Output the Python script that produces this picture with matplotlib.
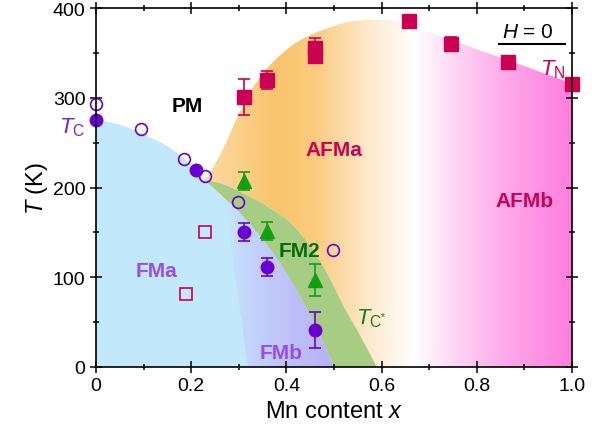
import numpy as np
import matplotlib
matplotlib.use('Agg')
import matplotlib.pyplot as plt
from matplotlib.patches import Polygon
from matplotlib.colors import LinearSegmentedColormap

plt.rcParams['font.family'] = ['Liberation Sans', 'DejaVu Sans']
plt.rcParams['mathtext.fontset'] = 'custom'
plt.rcParams['mathtext.rm'] = 'Liberation Sans'
plt.rcParams['mathtext.it'] = 'Liberation Sans:italic'
plt.rcParams['mathtext.bf'] = 'Liberation Sans:bold'

PURPLE = '#6a00d0'
CRIMSON = '#cc0052'
GREEN = '#12a012'

# --- measured points ---
# T_C, filled circles
tc_x = [0.0, 0.21, 0.31, 0.36, 0.46]
tc_y = [275, 220, 150, 111, 41]
tc_err = [0, 0, 10, 10, 20]
# T_C, open circles
tc_open_x = [0.0, 0.095, 0.185, 0.229, 0.298, 0.498]
tc_open_y = [293, 265, 232, 213, 184, 130]
# T_C*, triangles
tcs_x = [0.31, 0.36, 0.46]
tcs_y = [207, 152, 97]
tcs_err = [10, 10, 18]
# T_N, filled squares
tn_x = [0.31, 0.36, 0.46, 0.46, 0.657, 0.746, 0.866, 1.0]
tn_y = [301, 320, 355, 347, 385, 360, 340, 315]
tn_err = [20, 10, 12, 0, 0, 8, 0, 0]
# open squares
sq_open_x = [0.189, 0.229]
sq_open_y = [81, 150]

# --- phase boundaries ---
tc_line_x = [0.0, 0.05, 0.10, 0.15, 0.19, 0.21, 0.228]
tc_line_y = [275, 270, 259, 246, 230, 219, 208]
fm2_low_x = [0.228, 0.26, 0.30, 0.34, 0.38, 0.41, 0.44, 0.47, 0.50]
fm2_low_y = [208, 193, 173, 149, 121, 96, 68, 36, 0]
fm2_up_x = [0.59, 0.555, 0.52, 0.49, 0.455, 0.41, 0.36, 0.30, 0.26, 0.228]
fm2_up_y = [0, 35, 68, 100, 131, 160, 179, 196, 205, 208]
tn_line_x = [1.0, 0.87, 0.80, 0.70, 0.64, 0.597, 0.55, 0.506, 0.435,
             0.38, 0.338, 0.303, 0.267, 0.239, 0.228]
tn_line_y = [316, 341, 354, 373, 384, 387, 386, 381, 366,
             344, 318, 285, 243, 216, 208]
fmb_edge_x = [0.319, 0.27]
fmb_edge_y = [0, 188]


def smooth(xs, ys, n=16):
    # Catmull-Rom through the read-off boundary points
    p = np.column_stack([xs, ys]).astype(float)
    p = np.vstack([p[0], p, p[-1]])
    out = []
    t = np.linspace(0, 1, n, endpoint=False)[:, None]
    for i in range(1, len(p) - 2):
        p0, p1, p2, p3 = p[i - 1], p[i], p[i + 1], p[i + 2]
        out.append(0.5 * ((2 * p1) + (-p0 + p2) * t
                          + (2 * p0 - 5 * p1 + 4 * p2 - p3) * t ** 2
                          + (-p0 + 3 * p1 - 3 * p2 + p3) * t ** 3))
    out.append(p[-2][None, :])
    return np.vstack(out)


fig = plt.figure(figsize=(6.03, 4.35), dpi=100)
ax = fig.add_axes([96/603, 67/435, 476/603, 359/435])


def grad_fill(pts, stops, z):
    poly = Polygon(pts, closed=True, fc='none', ec='none')
    ax.add_patch(poly)
    cmap = LinearSegmentedColormap.from_list('g', stops, N=512)
    grad = np.linspace(0, 1, 800).reshape(1, -1)
    im = ax.imshow(grad, cmap=cmap, extent=(0, 1, 0, 400), aspect='auto',
                   origin='lower', zorder=z, interpolation='bilinear')
    im.set_clip_path(poly)


tc_curve = smooth(tc_line_x, tc_line_y)
low_curve = smooth(fm2_low_x, fm2_low_y)
up_curve = smooth(fm2_up_x, fm2_up_y)
tn_curve = smooth(tn_line_x, tn_line_y)

# FMa (blue)
blue = np.vstack([[0, 0], tc_curve, low_curve[1:]])
ax.add_patch(Polygon(blue, closed=True, fc='#c2e8fb', ec='none', zorder=0.4))

# FMb (lavender gradient)
low_part = low_curve[low_curve[:, 0] > 0.272]
fmb = np.vstack([np.column_stack([fmb_edge_x, fmb_edge_y]), low_part])
grad_fill(fmb, [(0, '#c2e8fb'), (0.27, '#c2e8fb'), (0.33, '#c3d2fa'),
                (0.42, '#bdbff8'), (0.5, '#b8b0f6'), (1, '#b8b0f6')], 0.5)

# FM2 (green)
ax.add_patch(Polygon(np.vstack([low_curve, up_curve]), closed=True,
                     fc='#a7cc83', ec='none', zorder=0.6))

# AFMa / AFMb (orange -> white -> pink)
afm = np.vstack([up_curve[::-1], [[1.0, 0]], tn_curve])
grad_fill(afm, [(0, '#fddba4'), (0.22, '#fddba4'), (0.30, '#fbd08a'),
                (0.38, '#f9c46c'), (0.46, '#fbcb7e'), (0.56, '#fde6c4'),
                (0.63, '#fff6ec'), (0.67, '#ffffff'), (0.75, '#fdd8f4'),
                (0.86, '#fcaaea'), (1.0, '#ff7ede')], 0.5)

# markers
ebkw = dict(capsize=4, elinewidth=1.2, capthick=1.2, linestyle='none', zorder=5)
ax.errorbar(tn_x, tn_y, yerr=tn_err, fmt='s', ms=10, color=CRIMSON, clip_on=False, **ebkw)
ax.errorbar(tcs_x, tcs_y, yerr=tcs_err, fmt='^', ms=10, color=GREEN, **ebkw)
ax.errorbar(tc_x, tc_y, yerr=tc_err, fmt='o', ms=9, color=PURPLE, clip_on=False, **ebkw)
ax.plot(tc_open_x, tc_open_y, 'o', ms=8.5, mfc='none', mec=PURPLE, mew=1.2,
        clip_on=False, zorder=5)
ax.plot(sq_open_x, sq_open_y, 's', ms=8.5, mfc='none', mec=CRIMSON, mew=1.2, zorder=5)

# labels
bold = dict(fontsize=15, fontweight='bold', ha='center', va='center', zorder=6)
ax.text(0.191, 291, 'PM', color='black', **bold)
ax.text(0.50, 242, 'AFMa', color=CRIMSON, **bold)
ax.text(0.90, 186, 'AFMb', color=CRIMSON, **bold)
ax.text(0.127, 107, 'FMa', color='#9a4de8', **bold)
ax.text(0.388, 16, 'FMb', color='#9a4de8', **bold)
ax.text(0.428, 130, 'FM2', color='#0a6a0a', **bold)

ax.text(-0.05, 268, r'$T_\mathrm{C}$', color='#7a20d0', fontsize=16,
        ha='center', va='center', clip_on=False)
ax.text(0.96, 332, r'$T_\mathrm{N}$', color=CRIMSON, fontsize=16,
        ha='center', va='center')
ax.text(0.578, 55, r'$T_{\mathrm{C}^{*}}$', color='#1a7a1a', fontsize=16,
        ha='center', va='center', zorder=6)
ax.text(0.908, 374, r'$H$ = 0', color='black', fontsize=15,
        ha='center', va='center')
ax.plot([0.847, 0.985], [360, 360], color='black', lw=1.5)

ax.set_xlim(0, 1)
ax.set_ylim(0, 400)
ax.set_xticks([0, 0.2, 0.4, 0.6, 0.8, 1.0])
ax.set_xticklabels(['0', '0.2', '0.4', '0.6', '0.8', '1.0'])
ax.set_xticks(np.arange(0.1, 1.0, 0.2), minor=True)
ax.set_yticks([0, 100, 200, 300, 400])
ax.set_yticks([50, 150, 250, 350], minor=True)
ax.tick_params(which='both', direction='inout', top=True, right=True,
               labelsize=14, width=1.1)
ax.tick_params(which='major', length=8)
ax.tick_params(which='minor', length=5)
for s in ax.spines.values():
    s.set_linewidth(1.2)
    s.set_zorder(7)
ax.set_xlabel('Mn content $x$', fontsize=17, labelpad=4)
ax.set_ylabel('$T$ (K)', fontsize=17, labelpad=2)

plt.savefig('out.png', dpi=100)
